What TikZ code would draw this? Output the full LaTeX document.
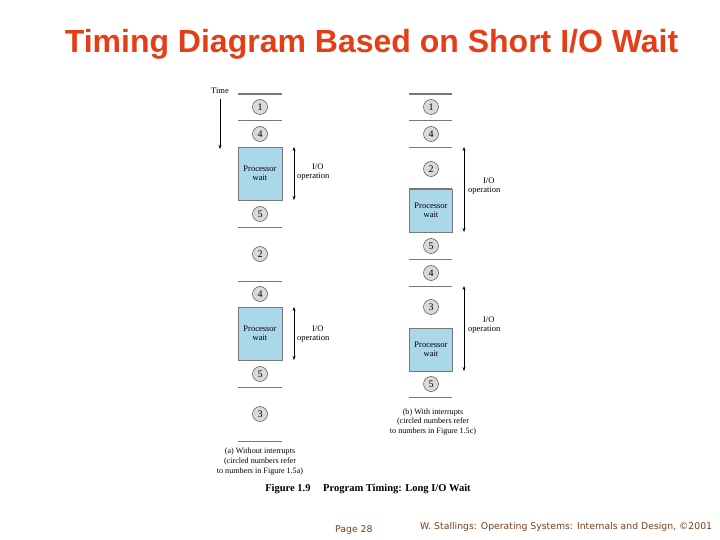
\documentclass[tikz,border=0pt]{standalone}
\usepackage{fontspec}
\setmainfont{Liberation Serif}
\newfontfamily\titlefont{Liberation Sans}
\newfontfamily\footfont{DejaVu Sans}
\usetikzlibrary{arrows.meta}
\definecolor{titlered}{RGB}{228,62,22}
\definecolor{waitblue}{RGB}{170,216,232}
\definecolor{circgray}{RGB}{218,218,218}
\definecolor{sepgray}{RGB}{120,120,120}
\definecolor{footbrown}{RGB}{125,62,25}
\tikzset{
  num/.style={circle,draw=black!70,fill=circgray,line width=0.5pt,inner sep=0pt,minimum size=15pt,font=\fontsize{10}{10}\selectfont},
  sep/.style={draw=sepgray,line width=0.7pt},
  septhick/.style={draw=sepgray,line width=1.5pt},
  waitbox/.style={draw=sepgray,line width=0.6pt,fill=waitblue},
  lbl/.style={font=\fontsize{8.5}{9.5}\selectfont,align=center,inner sep=0pt},
  captext/.style={font=\fontsize{8.1}{9.8}\selectfont,align=center,inner sep=0pt},
  ioarrow/.style={{Stealth[length=4pt,width=3pt]}-{Stealth[length=4pt,width=3pt]},line width=0.5pt},
}
\begin{document}
\begin{tikzpicture}[x=1pt,y=-1pt]
\useasboundingbox (0,0) rectangle (720,540);
% title
\node[font=\titlefont\bfseries\fontsize{32}{34}\selectfont,text=titlered,inner sep=0pt] (title) at (371.5,44) {Timing Diagram Based on Short I/O Wait};

% ---------- left column (a) ----------
\node[lbl,anchor=center] (time) at (220,91) {Time};
\coordinate (tstart) at (220,99);
\coordinate (tend) at (220,149);
\draw[-{Stealth[length=4pt,width=3pt]},line width=0.5pt] (tstart) -- (tend);

\draw[septhick] (238,94) -- (282,94);
\node[num] (a1) at (260,107) {1};
\draw[sep] (238,120.5) -- (282,120.5);
\node[num] (a4) at (260,134) {4};
\draw[waitbox] (238,147) rectangle (282,200);
\node[lbl] (aw1) at (260,173.5) {Processor\\wait};
\coordinate (aio1t) at (294,147);
\coordinate (aio1b) at (294,200);
\draw[ioarrow] (aio1t) -- (aio1b);
\node[lbl,anchor=west] (aio1) at (297,172) {\hspace*{9pt}I/O\\operation};
\node[num] (a5) at (260,214) {5};
\draw[sep] (238,227.5) -- (282,227.5);
\node[num] (a2) at (260,254) {2};
\draw[sep] (238,281) -- (282,281);
\node[num] (a4b) at (260,294) {4};
\draw[waitbox] (238,307) rectangle (282,360);
\node[lbl] (aw2) at (260,333.5) {Processor\\wait};
\coordinate (aio2t) at (294,307);
\coordinate (aio2b) at (294,360);
\draw[ioarrow] (aio2t) -- (aio2b);
\node[lbl,anchor=west] (aio2) at (297,334) {\hspace*{9pt}I/O\\operation};
\node[num] (a5b) at (260,374) {5};
\draw[sep] (238,387) -- (282,387);
\node[num] (a3) at (260,414) {3};
\draw[sep] (238,441) -- (282,441);
\node[captext] (capa) at (260,461.5) {(a) Without interrupts\\(circled numbers refer\\to numbers in Figure 1.5a)};

% ---------- right column (b) ----------
\draw[septhick] (409,94) -- (452,94);
\node[num] (b1) at (431,107) {1};
\draw[sep] (409,120.5) -- (452,120.5);
\node[num] (b4) at (431,134) {4};
\draw[sep] (409,147) -- (452,147);
\node[num] (b2) at (431,169) {2};
\draw[waitbox] (409,189) rectangle (452,232);
\draw[septhick] (409,189) -- (452,189);
\node[lbl] (bw1) at (431,210.5) {Processor\\wait};
\coordinate (bio1t) at (464,147);
\coordinate (bio1b) at (464,232);
\draw[ioarrow] (bio1t) -- (bio1b);
\node[lbl,anchor=west] (bio1) at (468,186) {\hspace*{9pt}I/O\\operation};
\node[num] (b5) at (431,246) {5};
\draw[sep] (409,259) -- (452,259);
\node[num] (b4b) at (431,273) {4};
\draw[sep] (409,286) -- (452,286);
\node[num] (b3) at (431,307) {3};
\draw[waitbox] (409,328) rectangle (452,371);
\node[lbl] (bw2) at (431,349.5) {Processor\\wait};
\coordinate (bio2t) at (464,286);
\coordinate (bio2b) at (464,371);
\draw[ioarrow] (bio2t) -- (bio2b);
\node[lbl,anchor=west] (bio2) at (468,325) {\hspace*{9pt}I/O\\operation};
\node[num] (b5b) at (431,384) {5};
\draw[sep] (409,397) -- (452,397);
\node[captext] (capb) at (433,422) {(b) With interrupts\\(circled numbers refer\\to numbers in Figure 1.5c)};

% figure caption
\node[inner sep=0pt,font=\bfseries\fontsize{10.5}{12}\selectfont] (figcap) at (368,489) {Figure 1.9\hspace{1.2em}Program Timing: Long I/O Wait};

% footer
\node[inner sep=0pt,anchor=west,text=footbrown,font=\footfont\fontsize{9.3}{10}\selectfont] (page) at (335,530) {Page 28};
\node[inner sep=0pt,anchor=west,text=footbrown,font=\footfont\fontsize{9.3}{10}\selectfont] (credit) at (420,527) {W. Stallings: Operating Systems: Internals and Design, ©2001};
\end{tikzpicture}
\end{document}
